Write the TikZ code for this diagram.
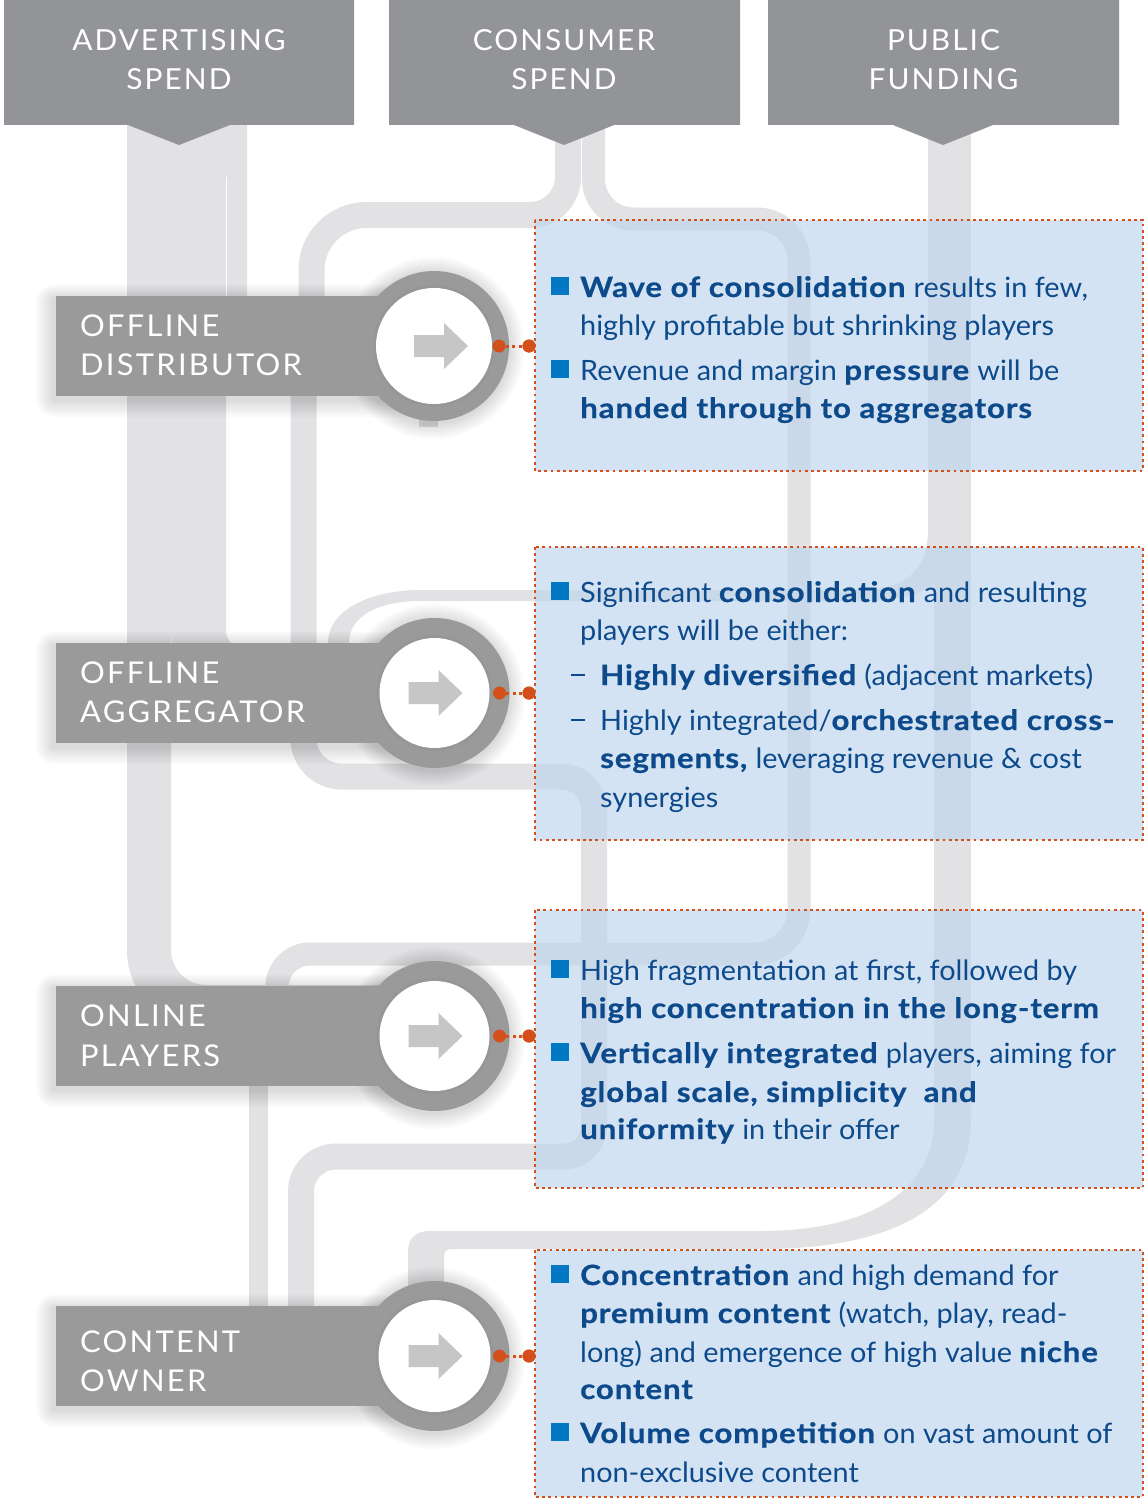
\documentclass[tikz,border=0pt]{standalone}
\usepackage{fontspec}
\setmainfont{Lato}[UprightFeatures={FakeStretch=1.03}, BoldFeatures={FakeStretch=1.12, FakeBold=0.6, LetterSpace=3}]

\definecolor{headgray}{HTML}{939497}
\definecolor{labelgray}{HTML}{999A99}
\definecolor{pipegray}{HTML}{E2E1E3}
\definecolor{boxblue}{HTML}{BFD5ED}
\definecolor{textblue}{HTML}{0D4A8B}
\definecolor{bulletblue}{HTML}{0078C4}
\definecolor{dotorange}{HTML}{D4501A}
\definecolor{arrowgray}{HTML}{C6C6C6}

\begin{document}
\begin{tikzpicture}[x=1pt,y=-1pt,
  pipe/.style={draw=pipegray, line cap=butt},
  pipefill/.style={fill=pipegray},
  header/.style={fill=headgray},
  headtxt/.style={text=white, inner sep=0pt, anchor=base,
    font=\fontsize{29}{34}\selectfont\addfontfeatures{LetterSpace=7}},
  halo/.style={fill=black, opacity=0.016},
  labelbox/.style={fill=labelgray},
  labeltxt/.style={text=white, inner sep=0pt, anchor=base west,
    font=\fontsize{30}{36}\selectfont\addfontfeatures{LetterSpace=7.5}},
  ring/.style={fill=labelgray},
  notebox/.style={draw=dotorange, line width=2.6pt, dash pattern=on 2.8pt off 3.4pt,
    fill=boxblue, fill opacity=0.66},
  txt/.style={text=textblue, inner sep=0pt, anchor=base west,
    font=\fontsize{28}{34}\selectfont},
  dot/.style={circle, fill=dotorange, inner sep=0pt, minimum size=13pt},
  link/.style={draw=dotorange, line width=3pt, dash pattern=on 3pt off 3.5pt},
]
\useasboundingbox (0,0) rectangle (1147,1501);
\fill[white] (0,0) rectangle (1147,1501);

% ---------- flow pipes ----------
% advertising spend
\draw[pipe, line width=44] (149,125) [rounded corners=57] -- (149,1007) -- (430,1007);
\draw[pipe, line width=55] (198.5,125) [rounded corners=47] -- (198.5,677) -- (430,677);
\draw[pipe, line width=21] (236.5,125) [rounded corners=25] -- (236.5,346) -- (430,346);
\draw[white, line width=1] (226,177) -- (226,296);
% consumer spend, left branch
\draw[pipe, line width=26] (568,125) [rounded corners=38] -- (568,215)
   [rounded corners=55] -- (311.5,215) [rounded corners=0] -- (311.5,335) -- (303.5,350)
   [rounded corners=38] -- (303.5,776.5) [rounded corners=33] -- (594,776.5)
   [rounded corners=30] -- (594,1156.5) [rounded corners=35] -- (301,1156.5) -- (301,1330);
% consumer spend, right branch
\draw[pipe, line width=23] (593.5,125) [rounded corners=40] -- (593.5,219)
   [rounded corners=42] -- (799,219) [rounded corners=45] -- (799,954)
   [rounded corners=33] -- (277,954) -- (277,1010);
% public funding
\draw[pipe, line width=43] (949.5,125) -- (949.5,560);
\draw[pipe, line width=37] (952.5,540) -- (952.5,1100);
\fill[pipefill] (934,1080) -- (934,1120) .. controls (934,1190) and (870,1231) .. (760,1231)
   -- (430,1231) .. controls (416,1231) and (408,1238) .. (408,1252) -- (408,1300)
   -- (444,1300) -- (444,1256) .. controls (444,1251) and (447,1249) .. (452,1249)
   -- (760,1249) .. controls (905,1249) and (971,1200) .. (971,1120) -- (971,1080) -- cycle;
\fill[pipefill] (328,660) -- (328,643) .. controls (328,610) and (370,590) .. (421,590)
   -- (860,590) .. controls (905,590) and (928,570) .. (928,530) -- (945,530)
   -- (945,560) .. controls (945,590) and (910,601) .. (860,601) -- (421,601)
   .. controls (380,601) and (349,615) .. (349,643) -- (349,660) -- cycle;
% short stub and link between the lower labels
\fill[pipefill] (419,380) rectangle (438,427);
\draw[pipe, line width=19] (258.5,1060) -- (258.5,1330);

% ---------- header blocks ----------
\fill[header] (4,0) -- (354,0) -- (354,125) -- (230,125) -- (179,145) -- (128,125) -- (4,125) -- cycle;
\fill[header] (389,0) -- (740,0) -- (740,125) -- (614,125) -- (564,145) -- (514,125) -- (389,125) -- cycle;
\fill[header] (768,0) -- (1119,0) -- (1119,125) -- (993,125) -- (943,145) -- (893,125) -- (768,125) -- cycle;
\node[headtxt] (h1a) at (179,51) {ADVERTISING};
\node[headtxt] (h1b) at (179,90) {SPEND};
\node[headtxt] (h2a) at (564,51) {CONSUMER};
\node[headtxt] (h2b) at (564,90) {SPEND};
\node[headtxt] (h3a) at (943.5,51) {PUBLIC};
\node[headtxt] (h3b) at (943.5,90) {FUNDING};

% ---------- player labels with circles ----------
\foreach \n/\top/\cx/\ri/\ax in {1/296/434/58/6, 2/643/434.5/55/0, 3/986/434.5/55/0, 4/1306/434.5/56/0} {
  \pgfmathsetmacro{\cy}{\top+50}
  % soft halo under the label and the ring
  \foreach \k in {1,...,9} {
    \fill[halo, rounded corners=2*\k] (56-2*\k-2,\top-1.6*\k+3) rectangle (430,\top+100+2*\k+3);
    \fill[halo] (\cx-1,\cy+2) circle (75+1.8*\k);
  }
  \fill[labelbox] (56,\top) rectangle (430,\top+100);
  \fill[ring] (\cx,\cy) circle (75);
  \draw[black!45, opacity=0.25, line width=3] (\cx,\cy) circle (\ri+1.5);
  \fill[white] (\cx,\cy) circle (\ri);
  \fill[arrowgray] (\cx-26+\ax,\cy-11) -- (\cx+4+\ax,\cy-11) -- (\cx+4+\ax,\cy-23)
     -- (\cx+28+\ax,\cy) -- (\cx+4+\ax,\cy+23) -- (\cx+4+\ax,\cy+11) -- (\cx-26+\ax,\cy+11) -- cycle;
  \node[dot] (d\n a) at (\cx+65,\cy) {};
  \node[dot] (d\n b) at (529,\cy) {};
  \draw[link] (d\n a) -- (d\n b);
}
\node[labeltxt] (l1a) at (80,336) {OFFLINE};
\node[labeltxt] (l1b) at (80,375) {DISTRIBUTOR};
\node[labeltxt] (l2a) at (80,683) {OFFLINE};
\node[labeltxt] (l2b) at (80,722) {AGGREGATOR};
\node[labeltxt] (l3a) at (80,1026) {ONLINE};
\node[labeltxt] (l3b) at (80,1066) {PLAYERS};
\node[labeltxt] (l4a) at (80,1352) {CONTENT};
\node[labeltxt] (l4b) at (80,1391) {OWNER};

% ---------- note boxes ----------
\path[notebox] (535,220) rectangle (1143,471);
\path[notebox] (535,547) rectangle (1143,840);
\path[notebox] (535,910) rectangle (1143,1188);
\path[notebox] (535,1250) rectangle (1143,1497);
\foreach \n in {1,2,3,4} { \node[dot] at (d\n b) {}; }

% bullets
\foreach \y in {297,380,602,980,1063,1285,1443}
  \fill[bulletblue] (551,\y-20) rectangle (569,\y-2);
\foreach \y in {685,730}
  \fill[textblue] (571,\y-11) rectangle (585,\y-9.5);

% box 1
\node[txt] (t1a) at (580,297) {\textbf{Wave of consolidation} results in few,};
\node[txt] (t1b) at (580,335) {highly profitable but shrinking players};
\node[txt] (t1c) at (580,380) {Revenue and margin \textbf{pressure} will be};
\node[txt] (t1d) at (580,418) {\textbf{handed through to aggregators}};
% box 2
\node[txt] (t2a) at (580,602) {Significant \textbf{consolidation} and resulting};
\node[txt] (t2b) at (580,640) {players will be either:};
\node[txt] (t2c) at (600,685) {\textbf{Highly diversified} (adjacent markets)};
\node[txt] (t2d) at (600,730) {Highly integrated/\textbf{orchestrated cross-}};
\node[txt] (t2e) at (600,768) {\textbf{segments,} leveraging revenue \& cost};
\node[txt] (t2f) at (600,807) {synergies};
% box 3
\node[txt] (t3a) at (580,980) {High fragmentation at first, followed by};
\node[txt] (t3b) at (580,1018) {\textbf{high concentration in the long-term}};
\node[txt] (t3c) at (580,1063) {\textbf{Vertically integrated} players, aiming for};
\node[txt] (t3d) at (580,1102) {\textbf{global scale, simplicity\ \ and}};
\node[txt] (t3e) at (580,1139) {\textbf{uniformity} in their offer};
% box 4
\node[txt] (t4a) at (580,1285) {\textbf{Concentration} and high demand for};
\node[txt] (t4b) at (580,1323) {\textbf{premium content} (watch, play, read-};
\node[txt] (t4c) at (580,1362) {long) and emergence of high value \textbf{niche}};
\node[txt] (t4d) at (580,1399) {\textbf{content}};
\node[txt] (t4e) at (580,1443) {\textbf{Volume competition} on vast amount of};
\node[txt] (t4f) at (580,1482) {non-exclusive content};
\end{tikzpicture}
\end{document}
